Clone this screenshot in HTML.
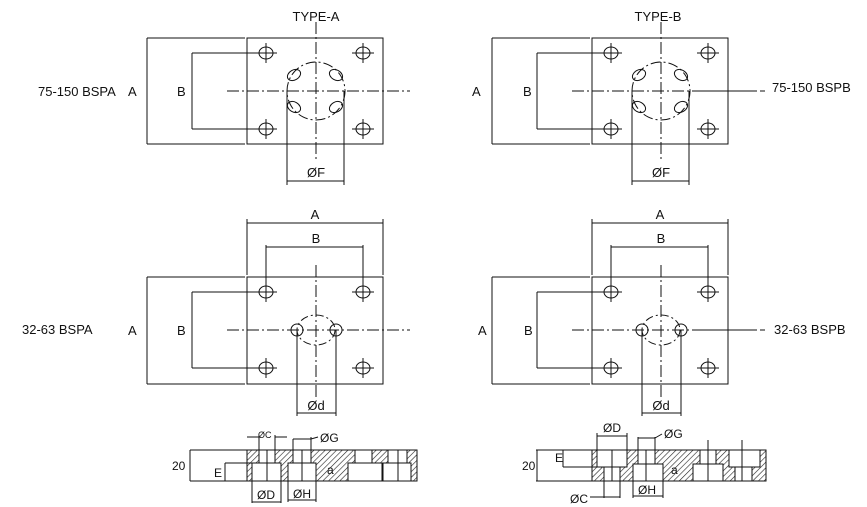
<!DOCTYPE html>
<html><head><meta charset="utf-8"><style>
html,body{margin:0;padding:0;background:#fff;}
svg{display:block;font-family:"Liberation Sans",sans-serif;}
text{font-size:13px;fill:#111;}
.t{font-size:12px}
</style></head><body>
<svg width="867" height="507" viewBox="0 0 867 507" xmlns="http://www.w3.org/2000/svg">
<defs>
<pattern id="h" width="4" height="4" patternUnits="userSpaceOnUse" patternTransform="rotate(45)">
<rect width="4" height="4" fill="#fff"/><line x1="0" y1="0" x2="0" y2="4" stroke="#222" stroke-width="1.2"/>
</pattern>
<g id="hole"><ellipse cx="0" cy="0" rx="7" ry="6" fill="none" stroke="#111" stroke-width="1"/>
<line x1="-11" y1="0" x2="11" y2="0" stroke="#111"/><line x1="0" y1="-10" x2="0" y2="10" stroke="#111"/></g>
<g id="top" stroke="#111" stroke-width="1" fill="none">
<rect x="247" y="38" width="136" height="106"/>
<line x1="147" y1="38" x2="245" y2="38"/><line x1="147" y1="144" x2="245" y2="144"/>
<line x1="147" y1="38" x2="147" y2="144"/>
<line x1="192" y1="53" x2="258" y2="53"/><line x1="192" y1="129" x2="258" y2="129"/>
<line x1="192" y1="53" x2="192" y2="129"/>
<use href="#hole" x="266" y="53"/><use href="#hole" x="363" y="53"/>
<use href="#hole" x="266" y="129"/><use href="#hole" x="363" y="129"/>
<circle cx="316" cy="91" r="29" stroke-dasharray="10,3,2,3"/>
<ellipse cx="294" cy="75" rx="7" ry="5" transform="rotate(-30 294 75)"/>
<ellipse cx="336" cy="75" rx="7" ry="5" transform="rotate(30 336 75)"/>
<ellipse cx="294" cy="107" rx="7" ry="5" transform="rotate(30 294 107)"/>
<ellipse cx="336" cy="107" rx="7" ry="5" transform="rotate(-30 336 107)"/>
<line x1="316" y1="22" x2="316" y2="160" stroke-dasharray="12,3,2,3"/>
<line x1="227" y1="91" x2="410" y2="91" stroke-dasharray="12,3,2,3"/>
<line x1="287" y1="91" x2="287" y2="185"/><line x1="344" y1="91" x2="344" y2="185"/>
<line x1="287" y1="181" x2="344" y2="181"/>
</g>
<g id="mid" stroke="#111" stroke-width="1" fill="none">
<rect x="247" y="277" width="136" height="107"/>
<line x1="147" y1="277" x2="245" y2="277"/><line x1="147" y1="384" x2="245" y2="384"/>
<line x1="147" y1="277" x2="147" y2="384"/>
<line x1="192" y1="292" x2="258" y2="292"/><line x1="192" y1="368" x2="258" y2="368"/>
<line x1="192" y1="292" x2="192" y2="368"/>
<line x1="247" y1="219" x2="247" y2="275"/><line x1="383" y1="219" x2="383" y2="275"/>
<line x1="247" y1="223" x2="383" y2="223"/>
<line x1="266" y1="245" x2="266" y2="285"/><line x1="363" y1="245" x2="363" y2="285"/>
<line x1="266" y1="247" x2="363" y2="247"/>
<use href="#hole" x="266" y="292"/><use href="#hole" x="363" y="292"/>
<use href="#hole" x="266" y="368"/><use href="#hole" x="363" y="368"/>
<ellipse cx="316" cy="330" rx="19" ry="15" stroke-dasharray="8,3,2,3"/>
<circle cx="297" cy="330" r="6"/><circle cx="336" cy="330" r="6"/>
<line x1="316" y1="265" x2="316" y2="400" stroke-dasharray="12,3,2,3"/>
<line x1="227" y1="330" x2="410" y2="330" stroke-dasharray="12,3,2,3"/>
<line x1="297" y1="330" x2="297" y2="416"/><line x1="336" y1="330" x2="336" y2="416"/>
<line x1="297" y1="413" x2="336" y2="413"/>
</g>
</defs>

<use href="#top"/>
<use href="#top" x="345"/>
<use href="#mid"/>
<use href="#mid" x="345"/>
<line x1="700" y1="91" x2="765" y2="91" stroke="#111" stroke-dasharray="12,3,2,3"/>
<line x1="700" y1="330" x2="765" y2="330" stroke="#111" stroke-dasharray="12,3,2,3"/>

<text x="316" y="21" text-anchor="middle">TYPE-A</text>
<text x="658" y="21" text-anchor="middle">TYPE-B</text>
<text x="38" y="96">75-150 BSPA</text>
<text x="128" y="96">A</text><text x="177" y="96">B</text>
<text x="472" y="96">A</text><text x="523" y="96">B</text>
<text x="772" y="92">75-150 BSPB</text>
<text x="316" y="177" text-anchor="middle">ØF</text>
<text x="661" y="177" text-anchor="middle">ØF</text>
<text x="315" y="219" text-anchor="middle">A</text><text x="316" y="243" text-anchor="middle">B</text>
<text x="660" y="219" text-anchor="middle">A</text><text x="661" y="243" text-anchor="middle">B</text>
<text x="22" y="334">32-63 BSPA</text>
<text x="128" y="335">A</text><text x="177" y="335">B</text>
<text x="478" y="335">A</text><text x="524" y="335">B</text>
<text x="774" y="334">32-63 BSPB</text>
<text x="316" y="410" text-anchor="middle">Ød</text>
<text x="661" y="410" text-anchor="middle">Ød</text>

<!-- Section A -->
<g stroke="#111" stroke-width="1">
<rect x="247" y="450" width="170" height="31" fill="url(#h)"/>
<rect x="252" y="463" width="29" height="18" fill="#fff"/>
<rect x="259" y="450" width="16" height="13" fill="#fff"/>
<line x1="267" y1="450" x2="267" y2="481"/>
<rect x="288" y="463" width="28" height="18" fill="#fff"/>
<rect x="293" y="450" width="18" height="13" fill="#fff"/>
<line x1="302" y1="450" x2="302" y2="481"/>
<rect x="348" y="463" width="34" height="18" fill="#fff"/>
<rect x="355" y="450" width="17" height="13" fill="#fff"/>
<rect x="383" y="463" width="28" height="18" fill="#fff"/>
<rect x="388" y="450" width="19" height="13" fill="#fff"/>
<line x1="398" y1="450" x2="398" y2="481"/>
<line x1="190" y1="450" x2="247" y2="450" fill="none"/><line x1="190" y1="481" x2="247" y2="481"/>
<line x1="190" y1="450" x2="190" y2="481"/>
<line x1="225" y1="463" x2="252" y2="463"/><line x1="225" y1="463" x2="225" y2="481"/>
<line x1="247" y1="437" x2="259" y2="437"/><line x1="275" y1="437" x2="287" y2="437"/>
<line x1="259" y1="435" x2="259" y2="450"/><line x1="275" y1="435" x2="275" y2="450"/>
<line x1="293" y1="439" x2="311" y2="439"/><line x1="311" y1="439" x2="318" y2="437"/>
<line x1="293" y1="439" x2="293" y2="450"/><line x1="311" y1="437" x2="311" y2="450"/>
<line x1="252" y1="481" x2="252" y2="503"/><line x1="281" y1="481" x2="281" y2="503"/>
<line x1="252" y1="502" x2="281" y2="502"/>
<line x1="288" y1="481" x2="288" y2="502"/><line x1="316" y1="481" x2="316" y2="502"/>
<line x1="288" y1="500" x2="316" y2="500"/>
</g>
<text x="172" y="470" class="t">20</text><text x="214" y="477" class="t">E</text>
<text x="258" y="438" style="font-size:9px">ØC</text>
<text x="320" y="442" class="t">ØG</text>
<text x="327" y="474" class="t">a</text>
<text x="257" y="499" class="t">ØD</text><text x="293" y="498" class="t">ØH</text>

<!-- Section B -->
<g stroke="#111" stroke-width="1">
<rect x="592" y="450" width="174" height="31" fill="url(#h)"/>
<rect x="597" y="450" width="30" height="17" fill="#fff"/>
<rect x="604" y="467" width="16" height="14" fill="#fff"/>
<line x1="612" y1="450" x2="612" y2="481"/>
<rect x="633" y="464" width="30" height="17" fill="#fff"/>
<rect x="638" y="450" width="17" height="14" fill="#fff"/>
<line x1="646" y1="450" x2="646" y2="481"/>
<rect x="693" y="464" width="30" height="17" fill="#fff"/>
<rect x="700" y="450" width="16" height="14" fill="#fff"/>
<line x1="708" y1="440" x2="708" y2="481"/>
<rect x="729" y="450" width="31" height="17" fill="#fff"/>
<rect x="735" y="467" width="17" height="14" fill="#fff"/>
<line x1="742" y1="440" x2="742" y2="481"/>
<line x1="536" y1="450" x2="592" y2="450"/><line x1="536" y1="481" x2="592" y2="481"/>
<line x1="537" y1="450" x2="537" y2="481"/>
<line x1="563" y1="467" x2="597" y2="467"/><line x1="563" y1="450" x2="563" y2="467"/>
<line x1="597" y1="433" x2="597" y2="450"/><line x1="627" y1="433" x2="627" y2="450"/>
<line x1="597" y1="436" x2="627" y2="436"/>
<line x1="638" y1="437" x2="638" y2="450"/><line x1="655" y1="437" x2="655" y2="450"/>
<line x1="638" y1="438" x2="655" y2="438"/><line x1="655" y1="438" x2="662" y2="434"/>
<line x1="604" y1="481" x2="604" y2="498"/><line x1="620" y1="481" x2="620" y2="498"/>
<line x1="590" y1="497" x2="620" y2="497"/>
<line x1="633" y1="481" x2="633" y2="498"/><line x1="663" y1="481" x2="663" y2="498"/>
<line x1="633" y1="496" x2="663" y2="496"/>
</g>
<text x="522" y="470" class="t">20</text><text x="555" y="462" class="t">E</text>
<text x="603" y="432" class="t">ØD</text>
<text x="664" y="438" class="t">ØG</text>
<text x="671" y="474" class="t">a</text>
<text x="570" y="503" class="t">ØC</text><text x="638" y="494" class="t">ØH</text>
</svg>
</body></html>
